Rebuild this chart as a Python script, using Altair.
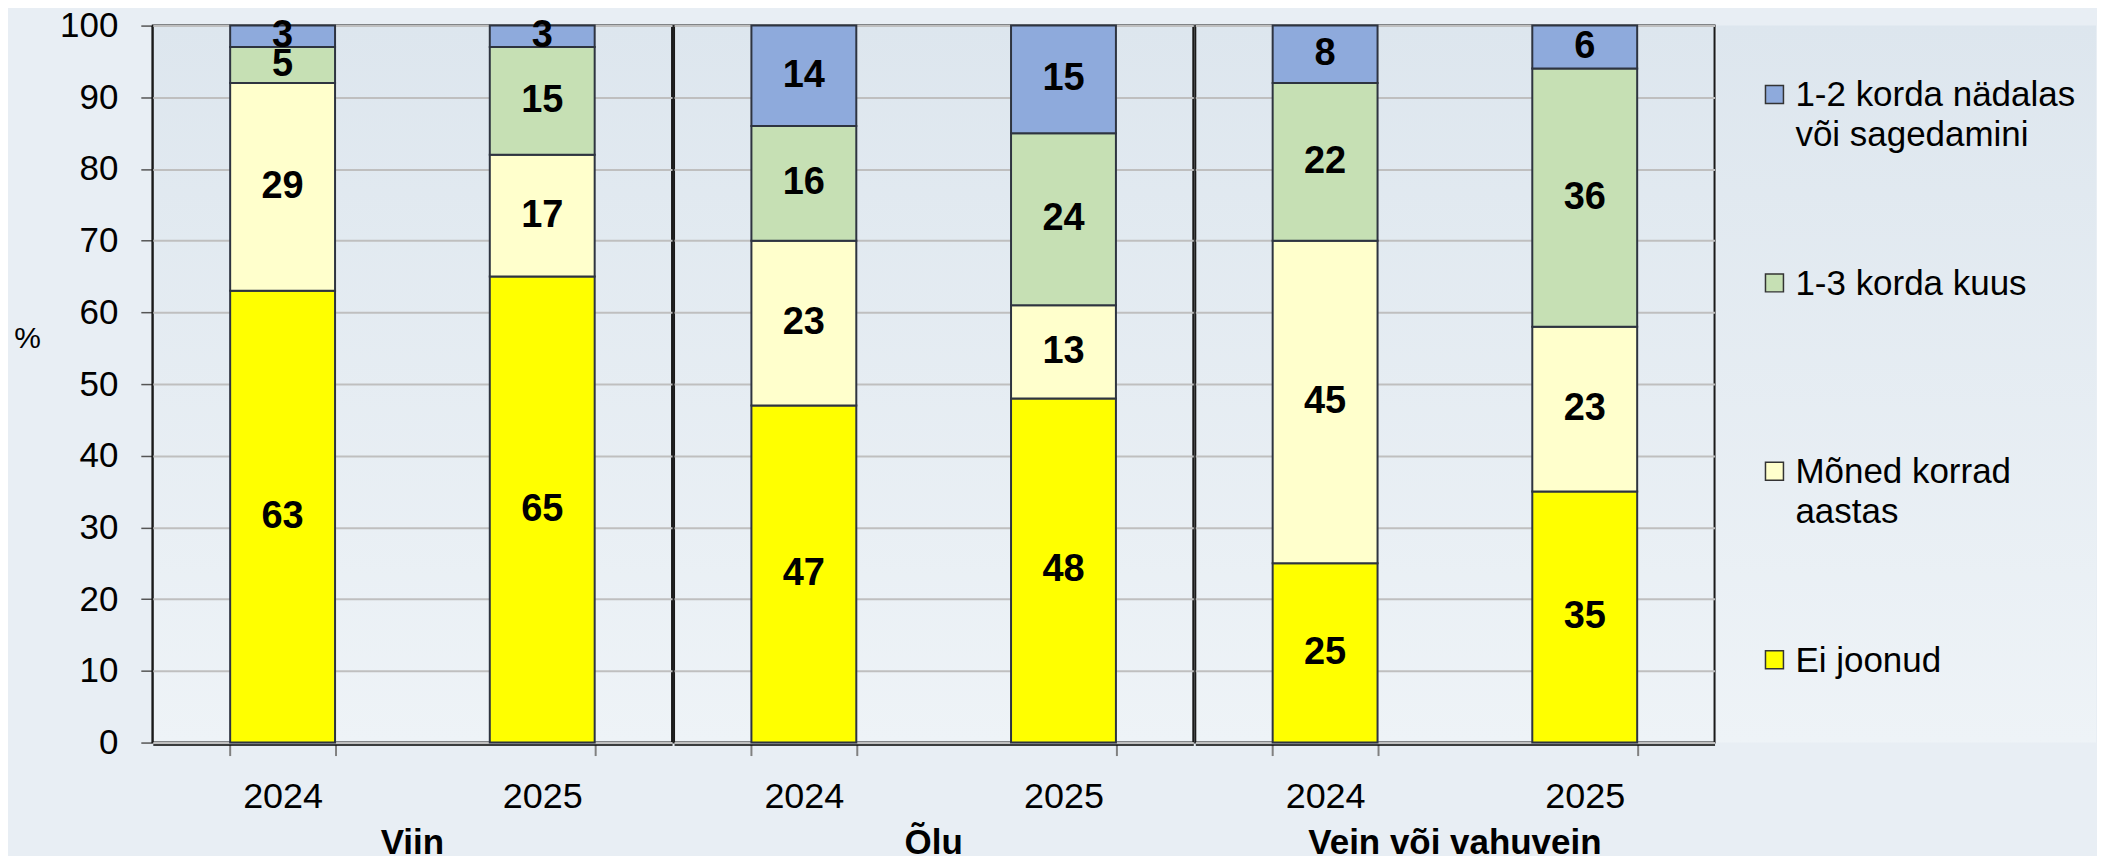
import altair as alt
import pandas as pd

groups = ["Viin", "Õlu", "Vein või vahuvein"]
years = ["2024", "2025"]
series = ["Ei joonud", "Mõned korrad aastas", "1-3 korda kuus", "1-2 korda nädalas või sagedamini"]
colors = ["#ffff00", "#ffffcc", "#c6e0b4", "#8eaadc"]

ei_joonud = [63, 65, 47, 48, 25, 35]
moned_korrad = [29, 17, 23, 13, 45, 23]
korda_kuus = [5, 15, 16, 24, 22, 36]
korda_nadalas = [3, 3, 14, 15, 8, 6]
values = [ei_joonud, moned_korrad, korda_kuus, korda_nadalas]

legend_series = series[::-1]
legend_labels = ["1-2 korda nädalas\nvõi sagedamini", "1-3 korda kuus", "Mõned korrad\naastas", "Ei joonud"]

FONT = "Liberation Sans"

rows = []
for gi, g in enumerate(groups):
    for yi, yr in enumerate(years):
        idx = gi * 2 + yi
        for si, s in enumerate(series):
            rows.append({"group": g, "year": yr, "series": s, "order": si, "value": values[si][idx]})
df = pd.DataFrame(rows)

color_scale = alt.Scale(domain=series, range=colors)

bars = alt.Chart().mark_bar(stroke="#2e3440", strokeWidth=2).encode(
    x=alt.X(
        "year:N",
        title=None,
        scale=alt.Scale(paddingInner=0.596, paddingOuter=0.298),
        axis=alt.Axis(
            labelAngle=0, labelFontSize=36, labelPadding=24, labelColor="#000", labelFont=FONT,
            tickBand="extent", tickSize=11, tickColor="#808080", tickWidth=2,
            domainColor="#000", domainWidth=1.5, grid=False,
        ),
    ),
    y=alt.Y(
        "y0:Q",
        scale=alt.Scale(domain=[0, 100]),
        axis=alt.Axis(
            values=list(range(0, 101, 10)), title="%", titleAngle=0, titleX=-125, titleY=313,
            titleAlign="center", titleBaseline="middle", titleFontSize=30, titleFontWeight="normal",
            titleFont=FONT, titleColor="#000",
            labelFontSize=35, labelPadding=23, labelColor="#000", labelFont=FONT,
            tickSize=11, tickColor="#555", tickWidth=1.5,
            domainColor="#000", domainWidth=1.5, gridColor="#bfbfbf", gridWidth=2,
        ),
    ),
    y2="y1:Q",
    fill=alt.Fill("series:N", scale=color_scale, legend=None),
)

labels = alt.Chart().mark_text(
    font=FONT, fontSize=38, fontWeight="bold", color="#000", baseline="middle", align="center"
).encode(
    x=alt.X("year:N"),
    y=alt.Y("mid:Q"),
    text=alt.Text("value:Q"),
)

layer = alt.layer(bars, labels, data=df).transform_stack(
    stack="value", groupby=["group", "year"], as_=["y0", "y1"], sort=[alt.SortField("order")]
).transform_calculate(
    mid="(datum.y0 + datum.y1) / 2"
).properties(width=520, height=718)

facet = layer.facet(
    column=alt.Column(
        "group:N", sort=groups, title=None,
        header=alt.Header(
            labelOrient="bottom", labelFont=FONT, labelFontSize=35, labelFontWeight="bold",
            labelColor="#000", labelPadding=12,
        ),
    ),
    spacing=0,
)

gradient = "{gradient: 'linear', x1: 0, y1: 0, x2: 0, y2: 1, stops: [{offset: 0, color: '#dde6ee'}, {offset: 1, color: '#eef3f7'}]}"

leg_df = pd.DataFrame({"series": legend_series, "label": legend_labels})
leg_base = alt.Chart(leg_df).encode(
    y=alt.Y("series:N", sort=legend_series, scale=alt.Scale(range=[69, 635], padding=0), axis=None)
)
sym = leg_base.mark_point(shape="square", filled=True, size=324, stroke="#333", strokeWidth=1.5, opacity=1).encode(
    x=alt.value(58),
    fill=alt.Fill("series:N", scale=color_scale, legend=None),
)
txt = leg_base.mark_text(
    align="left", baseline="alphabetic", dy=12, font=FONT, fontSize=35, lineBreak="\n", lineHeight=40, color="#000"
).encode(
    x=alt.value(79),
    text=alt.Text("label:N"),
)
legend = alt.layer(sym, txt).properties(
    width=380, height=718,
    view=alt.ViewConfig(stroke="transparent", fill={"expr": gradient}),
)

chart = alt.hconcat(facet, legend, spacing=0).properties(
    padding={"left": 5, "top": 0, "right": 0, "bottom": 5}
).configure(
    background="#e8eef4", font=FONT
).configure_view(
    stroke="#1a1a1a", strokeWidth=2, fill={"expr": gradient}
)

chart.save("out.html", embed_options={"renderer": "svg", "actions": False})
